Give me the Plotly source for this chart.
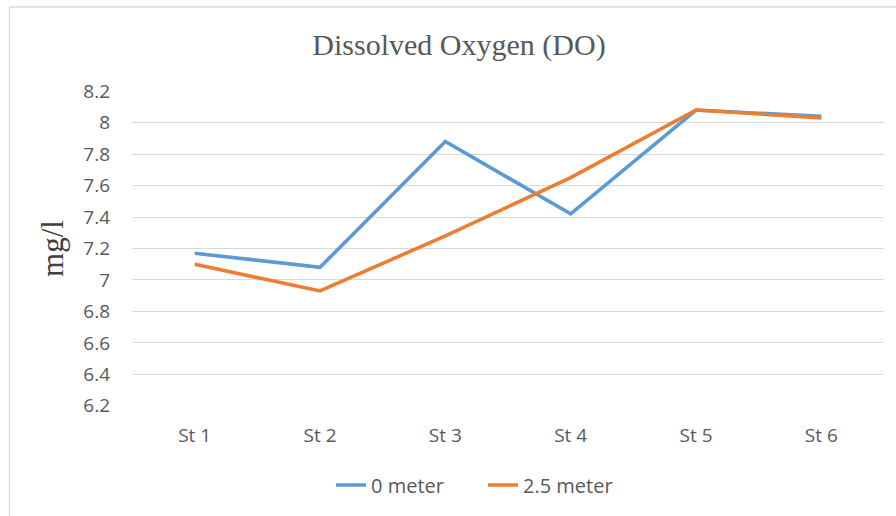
import plotly.graph_objects as go

stations = ["St 1", "St 2", "St 3", "St 4", "St 5", "St 6"]
do_0m = [7.17, 7.08, 7.88, 7.42, 8.08, 8.04]
do_25m = [7.10, 6.93, 7.28, 7.65, 8.08, 8.03]
y_ticks = [6.2, 6.4, 6.6, 6.8, 7.0, 7.2, 7.4, 7.6, 7.8, 8.0, 8.2]
y_tick_text = ["6.2", "6.4", "6.6", "6.8", "7", "7.2", "7.4", "7.6", "7.8", "8", "8.2"]

W, H = 896, 516
L, R, T, B = 132, 12, 91, 110
PW, PH = W - L - R, H - T - B

def px_x(p):
    return (p - L) / PW

def px_y(p):
    return (H - B - p) / PH

fig = go.Figure()
fig.add_trace(go.Scatter(x=stations, y=do_0m, mode="lines", name="0 meter",
                         line=dict(color="#5B9BD5", width=3.6, shape="linear")))
fig.add_trace(go.Scatter(x=stations, y=do_25m, mode="lines", name="2.5 meter",
                         line=dict(color="#ED7D31", width=3.6, shape="linear")))

tick_font = dict(family="Open Sans", size=19, color="#595959")
legend_font = dict(family="Open Sans", size=20, color="#595959")

fig.update_layout(
    width=W, height=H,
    margin=dict(l=L, r=R, t=T, b=B),
    paper_bgcolor="white", plot_bgcolor="white",
    title=dict(text="Dissolved Oxygen (DO)", x=px_x(459), xref="paper", xanchor="center",
               y=1 - 44 / H, yref="container", yanchor="middle",
               font=dict(family="Liberation Serif", size=30, color="#595959")),
    xaxis=dict(type="category", range=[-0.5, 5.5], showgrid=False, zeroline=False,
               showline=False, ticks="", tickfont=tick_font, ticklabelstandoff=16),
    yaxis=dict(range=[6.199, 8.201], tickvals=y_ticks, ticktext=y_tick_text,
               showgrid=True, gridcolor="#D9D9D9", gridwidth=1.3, zeroline=False,
               showline=False, ticks="", tickfont=tick_font, ticklabelstandoff=21,
               title=dict(text="mg/l", standoff=10,
                          font=dict(family="Liberation Serif", size=31, color="#404040"))),
    legend=dict(orientation="h", x=px_x(331), xanchor="left", xref="paper",
                y=px_y(485), yanchor="middle", font=legend_font,
                bgcolor="rgba(0,0,0,0)", entrywidth=107, entrywidthmode="pixels"),
    showlegend=True,
)

fig.add_shape(type="rect", xref="paper", yref="paper",
              x0=px_x(9.5), x1=px_x(905), y0=px_y(525), y1=px_y(7),
              line=dict(color="#D9D9D9", width=1.3), fillcolor="rgba(0,0,0,0)", layer="below")

fig.write_html("out.html", config={"displayModeBar": False},
               post_script="document.body.style.margin='0';document.body.style.overflow='hidden';")
